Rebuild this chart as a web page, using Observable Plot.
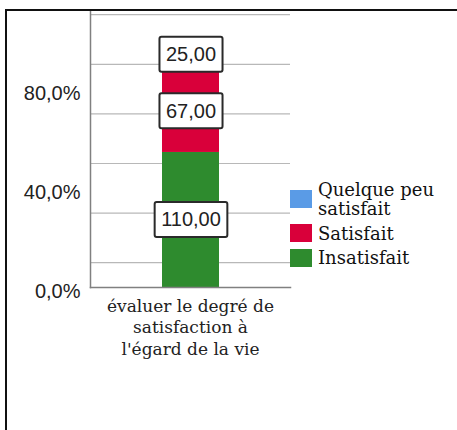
<!DOCTYPE html>
<html>
<head>
<meta charset="utf-8">
<script src="https://cdn.jsdelivr.net/npm/d3@7"></script>
<script src="https://cdn.jsdelivr.net/npm/@observablehq/plot@0.6"></script>
<style>
  html, body { margin: 0; padding: 0; background: #fff; }
  #wrap { position: relative; width: 457px; height: 430px; overflow: hidden; }
  #frame { position: absolute; left: 5px; top: 9px; width: 470px; height: 440px;
           border-left: 2px solid #111; border-top: 2px solid #111; pointer-events: none; }
  #legend { position: absolute; left: 290px; top: 180px; font-family: "DejaVu Serif", serif;
            font-size: 18px; line-height: 19px; color: #111; }
  .item { display: flex; align-items: center; margin-bottom: 5.5px; }
  .sw { width: 22px; height: 18px; flex: none; margin-right: 6px; }
  .lab { width: 130px; }
  #xlab { position: absolute; width: 220px; text-align: center; white-space: pre-line;
          font-family: "DejaVu Serif", serif; font-size: 17px; line-height: 21.5px; color: #222; }
</style>
</head>
<body>
<div id="wrap"><div id="frame"></div></div>
<script>
// ---- data ----
const categories = ["évaluer le degré de satisfaction à l'égard de la vie"];
const xLabelLines = ["évaluer le degré de", "satisfaction à", "l'égard de la vie"];
const responses = ["Insatisfait", "Satisfait", "Quelque peu satisfait"];
const counts = [110, 67, 25];
const legendOrder = ["Quelque peu satisfait", "Satisfait", "Insatisfait"];
const yTickValues = [0, 0.4, 0.8];
const gridValues = [0.1, 0.3, 0.5, 0.7, 0.9, 1.1];
const palette = ["#2E8B2E", "#D9003A", "#5A9BE6"];

const data = responses.map((r, i) => ({cat: categories[0], response: r, count: counts[i]}));
const fmtNum = d => d.toFixed(2).replace(".", ",");
const fmtPct = d => (d * 100).toFixed(1).replace(".", ",") + "%";
const SANS = "'Liberation Sans', Arial, sans-serif";

const chart = Plot.plot({
  width: 457, height: 430,
  marginLeft: 90, marginRight: 167, marginTop: 11, marginBottom: 143,
  style: {background: "transparent", color: "#222"},
  x: {domain: categories, padding: 0.556, axis: null, label: null},
  y: {domain: [0, 1.113], axis: null, label: null},
  color: {domain: responses, range: palette},
  marks: [
    Plot.ruleY(gridValues, {stroke: "#b8b8b8", strokeWidth: 1.2}),
    Plot.barY(data, Plot.stackY({offset: "normalize", x: "cat", y: "count", fill: "response"})),
    Plot.text(data, Plot.stackY({offset: "normalize", x: "cat", y: "count", z: "response",
      text: d => fmtNum(d.count),
      fontSize: 20, fontFamily: SANS, fill: "#222"})),
    Plot.frame({anchor: "left", stroke: "#808080", strokeWidth: 1.5}),
    Plot.frame({anchor: "bottom", stroke: "#808080", strokeWidth: 1.5}),
    Plot.axisY(yTickValues, {tickSize: 0, tickPadding: 10, dy: 4.5, tickFormat: fmtPct, label: null,
      fontSize: 20, fontFamily: SANS, fill: "#222"})
  ]
});
chart.style.position = "absolute";
chart.style.left = "0px";
chart.style.top = "0px";
const wrap = document.getElementById("wrap");
wrap.insertBefore(chart, wrap.firstChild);

// boxes behind the segment labels
const segTexts = new Set(counts.map(fmtNum));
d3.select(chart).selectAll("text").each(function() {
  const t = this.textContent.trim();
  if (!segTexts.has(t)) return;
  const b = this.getBBox();
  const padX = 6.5, padY = 6.5;
  d3.select(this.parentNode).insert("rect", () => this)
    .attr("transform", this.getAttribute("transform"))
    .attr("x", b.x - padX).attr("y", b.y - padY)
    .attr("width", b.width + 2 * padX).attr("height", b.height + 2 * padY)
    .attr("rx", 2).attr("fill", "#fff").attr("stroke", "#2a2a2a").attr("stroke-width", 2);
});

// category label under the bar, centred with the library's x scale
const xs = chart.scale("x");
const xc = xs.apply(categories[0]) + xs.bandwidth / 2;
const ys = chart.scale("y");
const xlab = document.createElement("div");
xlab.id = "xlab";
xlab.textContent = xLabelLines.join("\n");
xlab.style.left = (xc - 110) + "px";
xlab.style.top = (ys.apply(0) + 8.5) + "px";
wrap.appendChild(xlab);

// legend
const color = chart.scale("color");
const leg = document.createElement("div");
leg.id = "legend";
legendOrder.forEach(r => {
  const it = document.createElement("div");
  it.className = "item";
  const sw = document.createElement("div");
  sw.className = "sw";
  sw.style.background = color.apply(r);
  const lab = document.createElement("div");
  lab.className = "lab";
  lab.textContent = r;
  it.appendChild(sw); it.appendChild(lab);
  leg.appendChild(it);
});
wrap.appendChild(leg);
</script>
</body>
</html>
